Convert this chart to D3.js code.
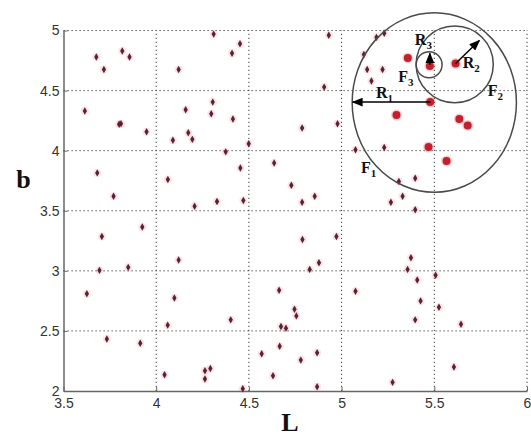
<!DOCTYPE html>
<html>
<head>
<meta charset="utf-8">
<script src="https://cdn.jsdelivr.net/npm/d3@7"></script>
<style>
  body { margin: 0; background: #fff; }
  svg { display: block; }
  .tick text { font-family: Arial, 'Liberation Sans', sans-serif; font-size: 14px; fill: #333; }
  .axis path.domain { stroke: #666; stroke-width: 1.5; }
  .axis .tick line { stroke: #666; }
  .grid line { stroke: #333; stroke-width: 1; stroke-dasharray: 1.2,2.8; }
  .axisLabel { font-family: 'Liberation Serif', 'Times New Roman', serif; font-weight: bold; font-size: 26px; fill: #111; }
  .note { font-family: 'Liberation Serif', 'Times New Roman', serif; font-weight: bold; font-size: 16px; fill: #111; }
</style>
</head>
<body>
<div id="chart"></div>
<script>
// tick labels
const xTicks = [3.5, 4, 4.5, 5, 5.5, 6]
const yTicks = [2, 2.5, 3, 3.5, 4, 4.5, 5]

// ordinary samples [L, b]
const smallPoints = [
  [3.677, 4.78], [3.718, 4.675], [3.817, 4.83], [3.856, 4.78], [3.615, 4.33], [3.80, 4.22], [3.81, 4.225],
  [3.948, 4.158], [3.682, 3.815], [3.77, 3.62],
  [4.31, 4.97], [4.409, 4.81], [4.452, 4.89], [4.121, 4.675], [4.159, 4.34], [4.305, 4.404], [4.297, 4.307],
  [4.414, 4.263], [4.173, 4.149], [4.195, 4.094], [4.09, 4.086], [4.375, 3.99], [4.499, 4.058], [4.454, 3.856],
  [4.063, 3.76], [4.328, 3.577], [4.47, 3.585], [4.207, 3.538],
  [3.707, 3.286], [3.925, 3.364], [3.694, 3.004], [3.849, 3.029], [4.121, 3.09], [3.626, 2.81], [4.098, 2.774],
  [4.062, 2.548], [4.402, 2.592], [3.734, 2.432], [3.914, 2.398], [4.569, 2.31], [4.045, 2.135], [4.263, 2.168],
  [4.292, 2.188], [4.263, 2.1], [4.467, 2.019],
  [4.789, 3.261], [4.972, 3.286], [4.878, 3.068], [4.828, 3.012], [5.374, 3.109], [5.356, 3.012], [5.507, 2.963],
  [5.408, 2.924], [4.663, 2.838], [5.075, 2.83], [5.426, 2.75], [5.525, 2.697], [4.746, 2.68], [4.756, 2.625],
  [5.397, 2.592], [4.673, 2.537], [4.7, 2.523], [5.644, 2.556], [4.666, 2.373], [4.868, 2.318], [4.78, 2.257],
  [4.63, 2.127], [4.868, 2.036], [5.275, 2.072], [5.606, 2.2],
  [4.931, 4.96], [5.188, 4.943], [5.23, 4.977], [5.12, 4.80], [5.138, 4.675], [5.221, 4.675], [5.161, 4.58],
  [4.906, 4.529], [4.787, 4.188], [4.978, 4.224], [5.075, 4.008], [5.23, 4.027], [4.636, 3.898], [4.729, 3.712],
  [4.787, 3.571], [4.855, 3.621], [5.309, 3.743], [5.397, 3.77], [5.329, 3.621], [5.266, 3.571], [5.397, 3.508]
]

// highlighted samples [L, b]
const largePoints = [
  [5.357, 4.772], [5.476, 4.705], [5.615, 4.725], [5.478, 4.404], [5.296, 4.296],
  [5.635, 4.263], [5.68, 4.21], [5.469, 4.031], [5.566, 3.915]
]

// regions F1..F3: centre and half widths in data units
const regionCenters = [[5.50, 4.40], [5.61, 4.718], [5.472, 4.715]]
const regionRadii = [[0.443, 0.747], [0.208, 0.32], [0.070, 0.108]]

// radius arrows R1..R3: [from, to]
const radiusArrows = [
  [[5.48, 4.404], [5.06, 4.404]],
  [[5.615, 4.725], [5.743, 4.917]],
  [[5.476, 4.714], [5.476, 4.81]]
]

// annotation labels [letter, subscript, L, b]
const notes = [
  ['R', '1', 5.185, 4.441],
  ['F', '1', 5.104, 3.817],
  ['F', '3', 5.305, 4.574],
  ['R', '3', 5.395, 4.879],
  ['R', '2', 5.653, 4.686],
  ['F', '2', 5.788, 4.455]
]

let width = 531
let height = 437

let x = d3.scaleLinear().domain([3.5, 6]).range([63.5, 527])
let y = d3.scaleLinear().domain([2, 5]).range([391, 30.5])

let svg = d3.select('#chart').append('svg')
  .attr('width', width)
  .attr('height', height)

svg.append('rect').attr('width', width).attr('height', height).attr('fill', '#fff')

// dotted grid
let grid = svg.append('g').attr('class', 'grid')
grid.selectAll('.gx').data(xTicks.slice(1)).enter().append('line')
  .attr('x1', d => x(d)).attr('x2', d => x(d))
  .attr('y1', y(2)).attr('y2', y(5))
grid.selectAll('.gy').data(yTicks.slice(1)).enter().append('line')
  .attr('x1', x(3.5)).attr('x2', x(6))
  .attr('y1', d => y(d)).attr('y2', d => y(d))

// axes
svg.append('g').attr('class', 'axis')
  .attr('transform', `translate(0,${y(2)})`)
  .call(d3.axisBottom(x).tickValues(xTicks).tickFormat(d3.format(''))
    .tickSizeInner(-4).tickSizeOuter(0).tickPadding(7))
svg.append('g').attr('class', 'axis')
  .attr('transform', `translate(${x(3.5)},0)`)
  .call(d3.axisLeft(y).tickValues(yTicks).tickFormat(d3.format(''))
    .tickSizeInner(-4).tickSizeOuter(0).tickPadding(4))

// samples
let small = svg.append('g')
small.selectAll('.halo').data(smallPoints).enter().append('circle')
  .attr('cx', d => x(d[0])).attr('cy', d => y(d[1])).attr('r', 4)
  .attr('fill', '#e56a7a').attr('opacity', 0.18)
small.selectAll('.pt').data(smallPoints).enter().append('path')
  .attr('d', d3.symbol().type(d3.symbolDiamond).size(16))
  .attr('transform', d => `translate(${x(d[0])},${y(d[1])})`)
  .attr('fill', '#5a2232')

let large = svg.append('g')
large.selectAll('.halo').data(largePoints).enter().append('circle')
  .attr('cx', d => x(d[0])).attr('cy', d => y(d[1])).attr('r', 5.5)
  .attr('fill', '#d84050').attr('opacity', 0.25)
large.selectAll('.pt').data(largePoints).enter().append('circle')
  .attr('cx', d => x(d[0])).attr('cy', d => y(d[1])).attr('r', 4)
  .attr('fill', '#c4202c')

// regions
svg.append('g').selectAll('ellipse').data(regionCenters).enter().append('ellipse')
  .attr('cx', d => x(d[0])).attr('cy', d => y(d[1]))
  .attr('rx', (d, i) => x(d[0] + regionRadii[i][0]) - x(d[0]))
  .attr('ry', (d, i) => y(d[1]) - y(d[1] + regionRadii[i][1]))
  .attr('fill', 'none').attr('stroke', '#4a4a4a').attr('stroke-width', 1.5)

// arrows
svg.append('defs').append('marker')
  .attr('id', 'head')
  .attr('markerUnits', 'userSpaceOnUse')
  .attr('viewBox', '0 0 10 8')
  .attr('refX', 9).attr('refY', 4)
  .attr('markerWidth', 11).attr('markerHeight', 9)
  .attr('orient', 'auto')
  .append('path').attr('d', 'M0,0 L10,4 L0,8 Z').attr('fill', '#000')

svg.append('g').selectAll('line').data(radiusArrows).enter().append('line')
  .attr('x1', d => x(d[0][0])).attr('y1', d => y(d[0][1]))
  .attr('x2', d => x(d[1][0])).attr('y2', d => y(d[1][1]))
  .attr('stroke', '#000').attr('stroke-width', 1.5)
  .attr('marker-end', 'url(#head)')

// labels
let noteText = svg.append('g').selectAll('text').data(notes).enter().append('text')
  .attr('class', 'note')
  .attr('x', d => x(d[2])).attr('y', d => y(d[3]))
noteText.append('tspan').text(d => d[0])
noteText.append('tspan').attr('dy', 4).attr('font-size', '11px').text(d => d[1])

svg.append('text').attr('class', 'axisLabel')
  .attr('x', 23.5).attr('y', 188).attr('text-anchor', 'middle').text('b')
svg.append('text').attr('class', 'axisLabel')
  .attr('x', 290).attr('y', 431).attr('text-anchor', 'middle').text('L')
</script>
</body>
</html>
